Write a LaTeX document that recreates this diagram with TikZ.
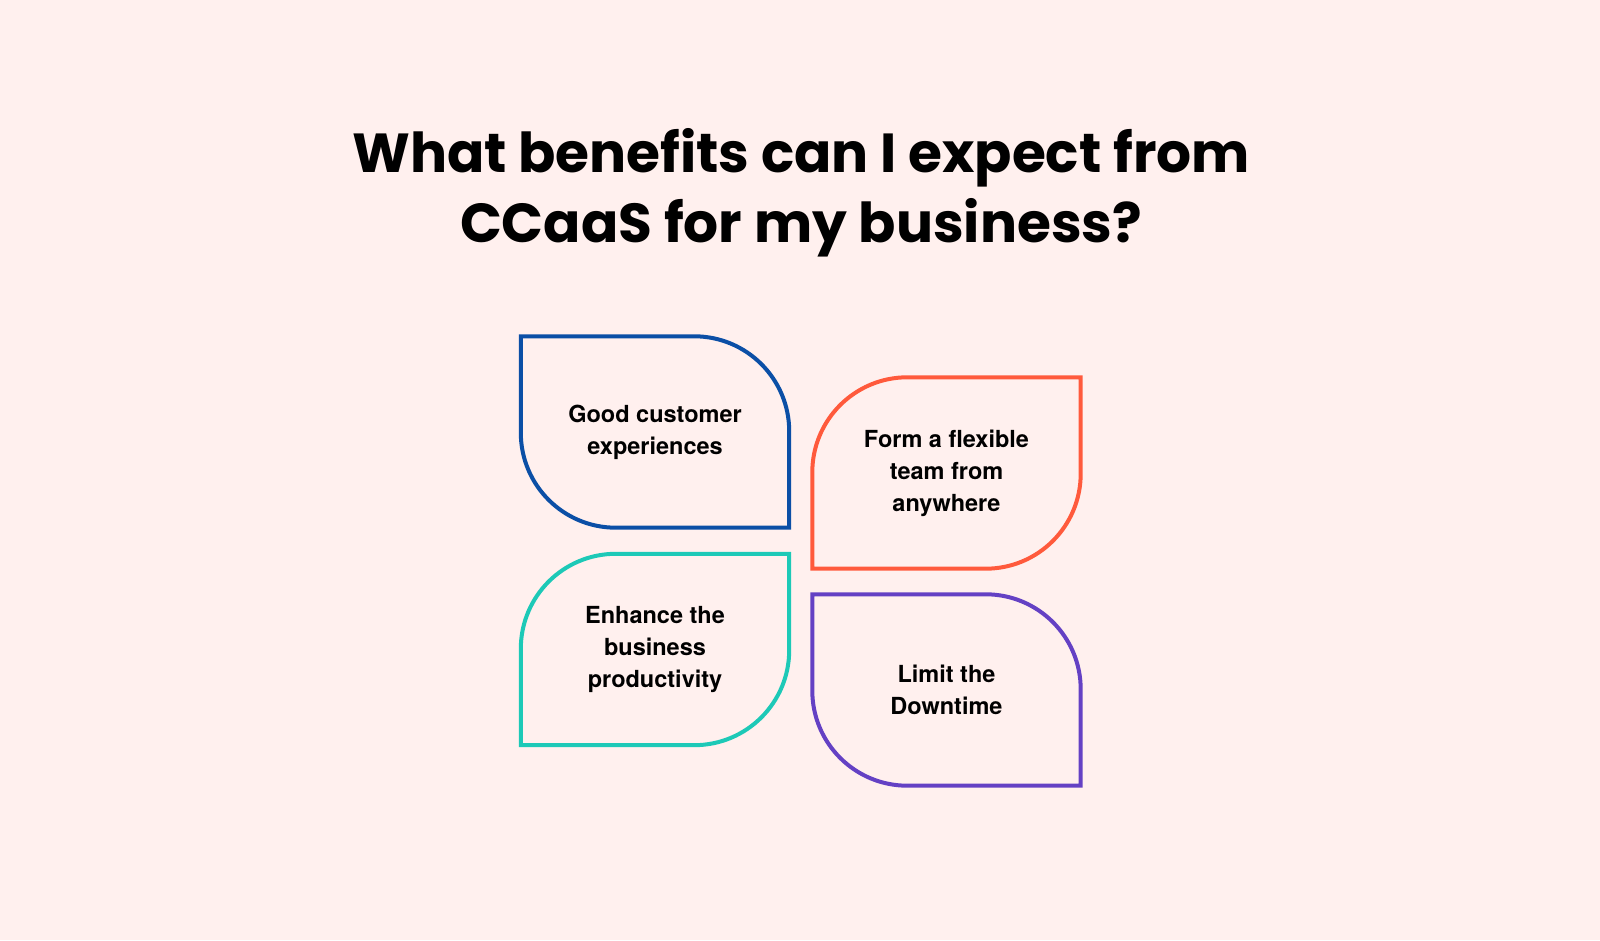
\documentclass[tikz,border=0pt]{standalone}
\usepackage{fontspec}
\usepackage{xcolor}
\usetikzlibrary{positioning,calc}
\setmainfont{TeX Gyre Heros}
\newfontfamily\titlefont{Poppins}

\definecolor{bgpink}{HTML}{FFF0EE}
\definecolor{leafblue}{HTML}{0B4FA6}
\definecolor{leafred}{HTML}{FF5A3C}
\definecolor{leafteal}{HTML}{1DC9B7}
\definecolor{leafpurple}{HTML}{6441C4}

\tikzset{
  leaf/.style={minimum width=268pt, minimum height=191pt, inner sep=0pt,
    align=center, font=\fontsize{23.5}{32}\selectfont\bfseries},
  rim/.style={line width=4pt, line join=miter}
}

\begin{document}
\begin{tikzpicture}[x=1pt, y=1pt]
\useasboundingbox[fill=bgpink] (0,0) rectangle (1600,940);

% Heading
\node[align=center, font=\titlefont\fontsize{55}{70}\selectfont\bfseries] (title) at (801,747) {What benefits can I expect from\\CCaaS for my business?};

% Four leaves
\node[leaf] (good) at (655,508) {Good customer\\experiences};
\node[leaf] (team) at (946.5,467) {Form a flexible\\team from\\anywhere};
\node[leaf] (prod) at (655,290.5) {Enhance the\\business\\productivity};
\node[leaf] (down) at (946.5,250) {Limit the\\Downtime};

% Outlines: round top right + bottom left
\draw[rim, leafblue] (good.north west) -- ($(good.north east)+(-95,0)$)
  arc[start angle=90, end angle=0, radius=95pt] -- (good.south east)
  -- ($(good.south west)+(95,0)$) arc[start angle=270, end angle=180, radius=95pt] -- cycle;
\draw[rim, leafpurple] (down.north west) -- ($(down.north east)+(-95,0)$)
  arc[start angle=90, end angle=0, radius=95pt] -- (down.south east)
  -- ($(down.south west)+(95,0)$) arc[start angle=270, end angle=180, radius=95pt] -- cycle;

% Outlines: round top left + bottom right
\draw[rim, leafred] (team.north east) -- ($(team.south east)+(0,95)$)
  arc[start angle=0, end angle=-90, radius=95pt] -- (team.south west)
  -- ($(team.north west)+(0,-95)$) arc[start angle=180, end angle=90, radius=95pt] -- cycle;
\draw[rim, leafteal] (prod.north east) -- ($(prod.south east)+(0,95)$)
  arc[start angle=0, end angle=-90, radius=95pt] -- (prod.south west)
  -- ($(prod.north west)+(0,-95)$) arc[start angle=180, end angle=90, radius=95pt] -- cycle;
\end{tikzpicture}
\end{document}
